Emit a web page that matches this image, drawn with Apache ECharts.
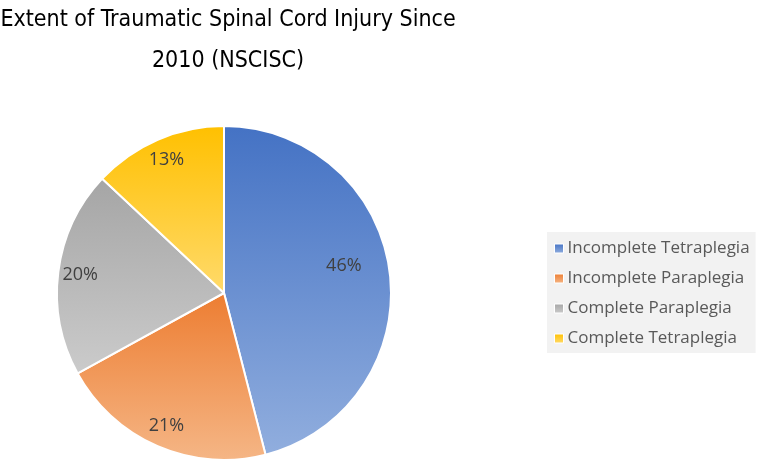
<!DOCTYPE html>
<html>
<head>
<meta charset="utf-8">
<script src="https://cdn.jsdelivr.net/npm/echarts@6/dist/echarts.min.js"></script>
<style>html,body{margin:0;padding:0;background:#fff}#c{width:758px;height:463px}</style>
</head>
<body>
<div id="c"></div>
<script>
const titleText = 'Extent of Traumatic Spinal Cord Injury Since\n2010 (NSCISC)';
const categories = ['Incomplete Tetraplegia', 'Incomplete Paraplegia', 'Complete Paraplegia', 'Complete Tetraplegia'];
const values = [46, 21, 20, 13];
const topColors = ['#4472C4', '#ED7D31', '#A5A5A5', '#FFC000'];
const bottomColors = ['#91AEDE', '#F5B686', '#CBCBCB', '#FFDA6B'];

const chart = echarts.init(document.getElementById('c'));
const grad = (i) => new echarts.graphic.LinearGradient(0, 0, 0, 1, [
  { offset: 0, color: topColors[i] }, { offset: 1, color: bottomColors[i] }
]);
const pieData = categories.map((name, i) => ({ name, value: values[i], itemStyle: { color: grad(i) } }));
const labelData = categories.map((name, i) => ({ name, value: values[i] }));

chart.setOption({
  animation: false,
  title: {
    text: titleText,
    left: 228, top: 0, padding: 0, textAlign: 'center',
    textStyle: { fontFamily: '"DejaVu Sans Condensed", "DejaVu Sans", sans-serif', fontSize: 23, fontWeight: 'normal', color: '#000', lineHeight: 41 }
  },
  legend: {
    orient: 'vertical',
    left: 547, top: 232,
    width: 209,
    backgroundColor: '#F2F2F2',
    padding: [8, 6, 6, 7],
    itemWidth: 9, itemHeight: 9, itemGap: 13,
    icon: 'rect',
    itemStyle: { borderColor: '#fff', borderWidth: 1 },
    data: categories,
    textStyle: { fontFamily: 'Open Sans', fontSize: 17, color: '#595959', padding: [0, 0, 0, -1] }
  },
  series: [
    {
      type: 'pie',
      center: [224, 293],
      radius: [0, 167],
      startAngle: 90,
      clockwise: true,
      label: { show: false },
      labelLine: { show: false },
      itemStyle: { borderColor: '#fff', borderWidth: 2 },
      emphasis: { disabled: true },
      data: pieData
    },
    {
      type: 'pie',
      silent: true,
      center: [224, 293],
      radius: [124, 160],
      startAngle: 90,
      clockwise: true,
      legendHoverLink: false,
      itemStyle: { color: 'rgba(0,0,0,0)' },
      label: {
        show: true, position: 'inside',
        formatter: '{d}%',
        fontFamily: 'Open Sans', fontSize: 18, color: '#404040'
      },
      labelLayout: function (p) { return p.dataIndex === 0 ? { dx: -24, dy: -9 } : {}; },
      labelLine: { show: false },
      data: labelData
    }
  ]
});
</script>
</body>
</html>
